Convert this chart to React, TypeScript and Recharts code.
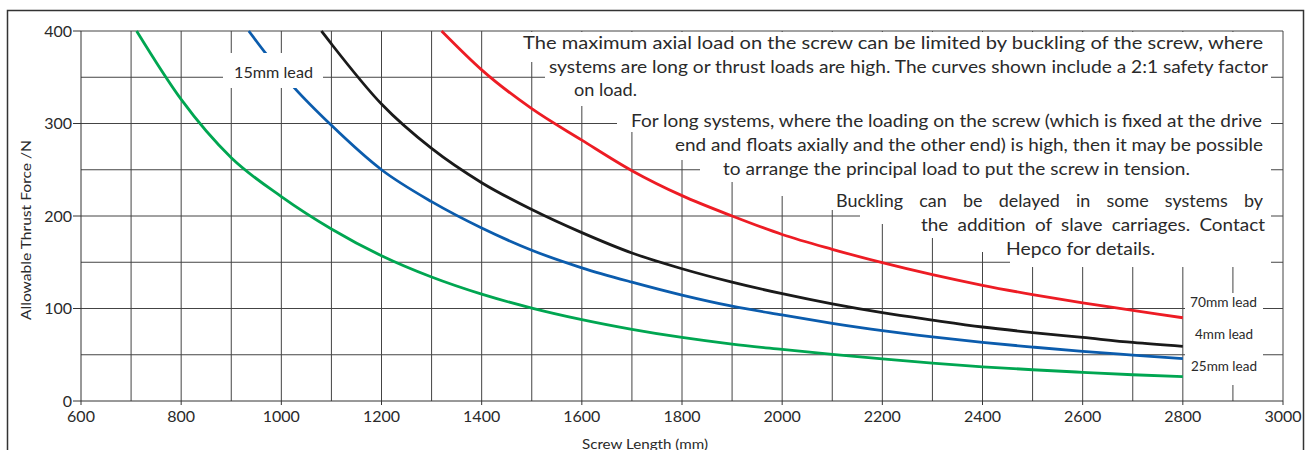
import { LineChart, Line, XAxis, YAxis, CartesianGrid } from "recharts";

// screw length (mm) / allowable thrust force (N)
const redLength = [1320, 1400, 1500, 1600, 1700, 1800, 1900, 2000, 2100, 2200, 2300, 2400, 2500, 2600, 2700, 2800];
const redForce = [400, 358, 316, 282, 249, 222, 200, 180, 164, 149.5, 136.5, 125, 115, 106, 98, 90];

const blackLength = [1080, 1100, 1200, 1300, 1400, 1500, 1600, 1700, 1800, 1900, 2000, 2100, 2200, 2300, 2400, 2500, 2600, 2700, 2800];
const blackForce = [400, 386, 321, 273, 236, 207, 182, 160, 143, 128.5, 116, 105, 95.5, 87.5, 80, 74, 68.7, 63.3, 59];

const blueLength = [935, 970, 1027, 1100, 1200, 1300, 1400, 1500, 1600, 1700, 1800, 1900, 2000, 2100, 2200, 2300, 2400, 2500, 2600, 2700, 2800];
const blueForce = [400, 375, 338, 298, 250, 215.5, 187, 163, 144, 128.5, 114.5, 102.5, 93, 84, 76, 69.3, 63.3, 58.3, 53.6, 49.6, 45.7];

const greenLength = [711, 800, 900, 1000, 1100, 1200, 1300, 1400, 1500, 1600, 1700, 1800, 1900, 2000, 2100, 2200, 2300, 2400, 2500, 2600, 2700, 2800];
const greenForce = [400, 326, 263, 221, 186, 157, 134, 115.5, 100.5, 88, 77.5, 68.7, 61.5, 55.8, 50.4, 45.5, 41, 37, 33.8, 31, 28.4, 26.3];

const xTicks = [600, 800, 1000, 1200, 1400, 1600, 1800, 2000, 2200, 2400, 2600, 2800, 3000];
const yTicks = [0, 100, 200, 300, 400];
const xGrid = [700, 800, 900, 1000, 1100, 1200, 1300, 1400, 1500, 1600, 1700, 1800, 1900, 2000, 2100, 2200, 2300, 2400, 2500, 2600, 2700, 2800, 2900, 3000];
const yGrid = [50, 100, 150, 200, 250, 300, 350, 400];

const notes = [
  "The maximum axial load on the screw can be limited by buckling of the screw, where",
  "systems are long or thrust loads are high. The curves shown include a 2:1 safety factor",
  "on load.",
  "For long systems, where the loading on the screw (which is fixed at the drive",
  "end and floats axially and the other end) is high, then it may be possible",
  "to arrange the principal load to put the screw in tension.",
  "Buckling can be delayed in some systems by",
  "the addition of slave carriages. Contact",
  "Hepco for details.",
];
// [x start, x end, baseline, word spacing] for each note line
const noteBox = [
  [523, 1263, 48.5, 0], [549, 1268, 73, 0], [574, 637, 96, 0],
  [631, 1262, 127, 0], [675, 1263, 151, 0], [723, 1190, 175, 0],
  [836, 1263, 207, 11], [921, 1265, 231, 4], [1006, 1155, 255, 0],
];

const leadLabels = ["70mm lead", "4mm lead", "25mm lead"];
const leadBox = [[1190, 1257, 306.5], [1195, 1253, 339], [1191, 1257, 371]];

const toRows = (xs: number[], ys: number[]) => xs.map((length, i) => ({ length, force: ys[i] }));

const FONT = "Lato, 'DejaVu Sans', sans-serif";
const INK = "#2a2a2a";

// staircase of white behind the notes
const whiteStair =
  "515,32 515,62 545,62 545,80 570,80 570,106 617,106 617,132 665,132 665,160 700,160 700,182 " +
  "760,182 760,196 810,196 810,210 860,210 860,224 910,224 910,238 960,238 960,252 1010,252 1010,267 1271,267 1271,32";

export default function App() {
  return (
    <div style={{ position: "absolute", left: 0, top: 0, width: 1309, height: 450, background: "#fff", overflow: "hidden", fontFamily: FONT }}>
      <LineChart width={1309} height={450} margin={{ top: 31, right: 26, bottom: 0, left: 0 }}>
        <CartesianGrid stroke="#444" strokeWidth={1} horizontalValues={yGrid} verticalValues={xGrid} />
        <XAxis
          dataKey="length" type="number" domain={[600, 3000]} ticks={xTicks} allowDuplicatedCategory={false}
          height={49} tickSize={4} tickMargin={6} stroke="#333"
          tick={{ fontSize: 16, fill: INK, fontFamily: FONT }}
        />
        <YAxis
          type="number" domain={[0, 400]} ticks={yTicks} width={81} tickSize={8} tickMargin={1} stroke="#333"
          tick={{ fontSize: 16, fill: INK, fontFamily: FONT }}
        />
        <Line data={toRows(greenLength, greenForce)} dataKey="force" type="monotone" stroke="#00a651" strokeWidth={2.8} dot={false} isAnimationActive={false} />
        <Line data={toRows(blueLength, blueForce)} dataKey="force" type="monotone" stroke="#0b5cad" strokeWidth={2.8} dot={false} isAnimationActive={false} />
        <Line data={toRows(blackLength, blackForce)} dataKey="force" type="monotone" stroke="#1a1a1a" strokeWidth={2.8} dot={false} isAnimationActive={false} />
        <Line data={toRows(redLength, redForce)} dataKey="force" type="monotone" stroke="#ed1c24" strokeWidth={2.8} dot={false} isAnimationActive={false} />
      </LineChart>

      <svg width={1309} height={450} style={{ position: "absolute", left: 0, top: 0, pointerEvents: "none" }}>
        {/* outer frame */}
        <polyline points="7.5,460 7.5,10.5 1303.5,10.5 1303.5,460" fill="none" stroke="#333" strokeWidth={1.5} />

        <polygon points={whiteStair} fill="#fff" />
        <rect x={223} y={53} width={100} height={35} fill="#fff" />
        <rect x={1185} y={293} width={78} height={92} fill="#fff" />

        {notes.map((t, i) => (
          <text key={i} x={noteBox[i][0]} y={noteBox[i][2]} textLength={noteBox[i][1] - noteBox[i][0]}
            lengthAdjust="spacingAndGlyphs" wordSpacing={noteBox[i][3]} fontSize={17} fill={INK} fontFamily={FONT}>{t}</text>
        ))}

        <text x={234} y={77.5} textLength={79} lengthAdjust="spacingAndGlyphs" fontSize={16} fill={INK} fontFamily={FONT}>15mm lead</text>
        {leadLabels.map((t, i) => (
          <text key={t} x={leadBox[i][0]} y={leadBox[i][2]} textLength={leadBox[i][1] - leadBox[i][0]}
            lengthAdjust="spacingAndGlyphs" fontSize={14} fill={INK} fontFamily={FONT}>{t}</text>
        ))}

        <text transform="translate(31,230) rotate(-90)" textAnchor="middle" textLength={180} lengthAdjust="spacingAndGlyphs"
          fontSize={14} fill={INK} fontFamily={FONT}>
          Allowable Thrust Force /N
        </text>
        <text x={645} y={448.5} textAnchor="middle" textLength={126} lengthAdjust="spacingAndGlyphs"
          fontSize={14} fill={INK} fontFamily={FONT}>
          Screw Length (mm)
        </text>
      </svg>
    </div>
  );
}
